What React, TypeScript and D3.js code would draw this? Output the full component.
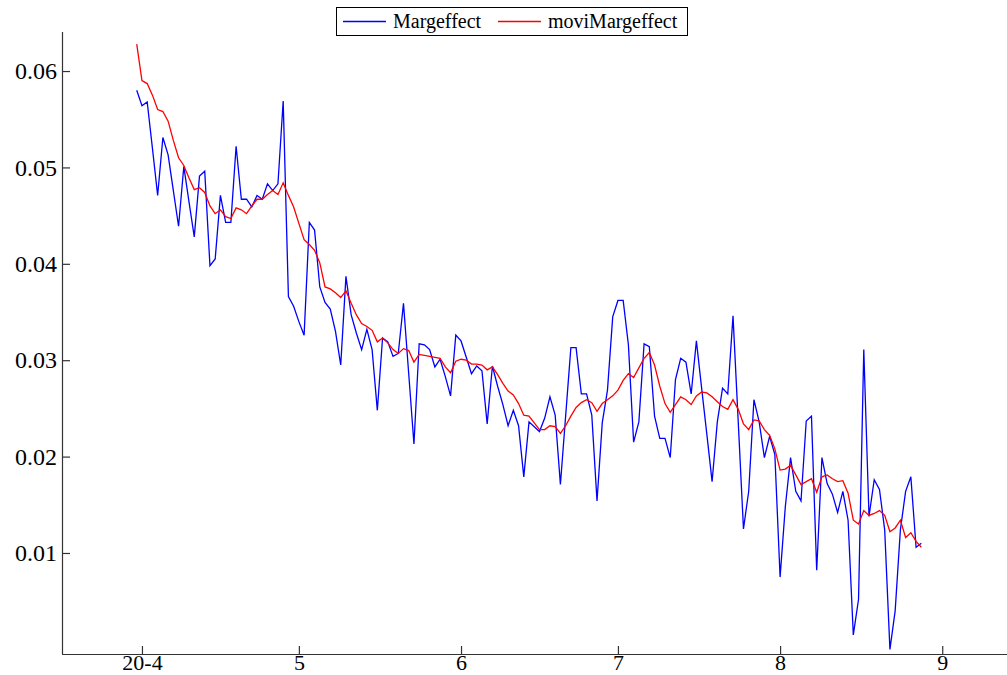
import React, { useEffect, useRef } from "react";
import * as d3 from "d3";

// daily series starting 2020-03-31
const startDate = new Date(Date.UTC(2020, 2, 31));

const margeffect = [
  0.058, 0.0564, 0.0568, 0.052, 0.0471, 0.0531, 0.0513, 0.0476, 0.0439, 0.0501,
  0.0464, 0.0428, 0.0491, 0.0496, 0.0398, 0.0405, 0.0471, 0.0443, 0.0443, 0.0522,
  0.0467, 0.0467, 0.0459, 0.0471, 0.0467, 0.0483, 0.0476, 0.0483, 0.0569, 0.0366,
  0.0356, 0.034, 0.0326, 0.0443, 0.0435, 0.0376, 0.036, 0.0353, 0.033, 0.0295,
  0.0387, 0.0347, 0.0328, 0.0311, 0.0332, 0.0311, 0.0248, 0.0323, 0.0319, 0.0304,
  0.0307, 0.0359, 0.0286, 0.0213, 0.0317, 0.0316, 0.0311, 0.0293, 0.0301, 0.0283,
  0.0263, 0.0326, 0.032, 0.0303, 0.0286, 0.0294, 0.0289, 0.0234, 0.0294, 0.0273,
  0.0254, 0.0232, 0.0248, 0.0232, 0.0179, 0.0236, 0.0231, 0.0226, 0.024, 0.0262,
  0.0243, 0.0171, 0.0242, 0.0313, 0.0313, 0.0265, 0.0265, 0.0243, 0.0154, 0.0235,
  0.0269, 0.0345, 0.0362, 0.0362, 0.0316, 0.0215, 0.0236, 0.0317, 0.0314, 0.0242,
  0.0219, 0.0219, 0.0199, 0.028, 0.0302, 0.0298, 0.0265, 0.032, 0.0271, 0.0223,
  0.0174, 0.0236, 0.0271, 0.0265, 0.0346, 0.0236, 0.0125, 0.0164, 0.0259, 0.0236,
  0.0199, 0.0221, 0.0202, 0.0075, 0.0148, 0.0199, 0.0164, 0.0154, 0.0237, 0.0242,
  0.0082, 0.0199, 0.0172, 0.0161, 0.0142, 0.0164, 0.0134, 0.0015, 0.0052, 0.0311,
  0.0138, 0.0176, 0.0166, 0.0124, 0.0, 0.004, 0.0124, 0.0164, 0.0179, 0.0106,
  0.011,
];

const moviMargeffect = [
  0.0628, 0.059, 0.0587, 0.0575, 0.056, 0.0558, 0.0548, 0.0528, 0.051, 0.0502,
  0.0489, 0.0477, 0.0479, 0.0474, 0.046, 0.0452, 0.0456, 0.0449, 0.0447, 0.0458,
  0.0456, 0.0452, 0.046, 0.0467, 0.0467, 0.0472, 0.0476, 0.0472, 0.0484, 0.0471,
  0.0459, 0.0442, 0.0425, 0.042, 0.0414, 0.0401, 0.0376, 0.0374, 0.037, 0.0365,
  0.0372, 0.0359, 0.0347, 0.0338, 0.0335, 0.0331, 0.0319, 0.0323, 0.0318, 0.0311,
  0.0307, 0.0312, 0.031, 0.0298, 0.0306, 0.0305, 0.0304, 0.0303, 0.0302, 0.0293,
  0.0287, 0.0299, 0.0301, 0.03, 0.0296, 0.0296, 0.0295, 0.029, 0.0293, 0.0285,
  0.0276, 0.0268, 0.0264, 0.0255, 0.0243, 0.0242, 0.0235, 0.0228, 0.0228, 0.0232,
  0.0231, 0.0224, 0.0232, 0.0242, 0.0251, 0.0256, 0.0259, 0.0256, 0.0247, 0.0255,
  0.0259, 0.0263, 0.0269, 0.0279, 0.0286, 0.0282, 0.0292, 0.0302, 0.0308, 0.0295,
  0.0273, 0.0255, 0.0246, 0.0254, 0.0262, 0.0259, 0.0254, 0.0263, 0.0267, 0.0266,
  0.0262, 0.0257, 0.0252, 0.0249, 0.0259, 0.0249, 0.0234, 0.0228, 0.0238, 0.0237,
  0.0228, 0.0222, 0.0208, 0.0186, 0.0187, 0.0191, 0.0181, 0.0171, 0.0174, 0.0177,
  0.0163, 0.0179, 0.0181, 0.0177, 0.0174, 0.0175, 0.0162, 0.0134, 0.013, 0.0144,
  0.0139, 0.0141, 0.0144, 0.0139, 0.0122, 0.0126, 0.0134, 0.0116, 0.0121, 0.0112,
  0.0106,
];

const seriesNames = ["Margeffect", "moviMargeffect"];
const seriesColors = ["#0000ff", "#ff0000"];
const yTicks = [0.01, 0.02, 0.03, 0.04, 0.05, 0.06];

const width = 1007;
const height = 675;
const fontFamily = "'Liberation Serif', 'Times New Roman', Times, serif";

const Chart = () => {
  const svgRef = useRef(null);

  useEffect(() => {
    const svg = d3.select(svgRef.current);
    svg.selectAll("*").remove();

    const left = 62;
    const bottom = 654;
    const top = 32;

    const x = d3
      .scaleUtc()
      .domain([new Date(Date.UTC(2020, 2, 17)), new Date(Date.UTC(2020, 8, 13))])
      .range([63.5, 1005]);

    const y = d3.scaleLinear().domain([-0.00048, 0.06405]).range([bottom, top]);

    const dates = margeffect.map((_, i) => d3.utcDay.offset(startDate, i));

    // x axis, ticks on month starts, pointing inward
    const xAxis = d3
      .axisBottom(x)
      .ticks(d3.utcMonth.every(1))
      .tickSizeInner(-8)
      .tickSizeOuter(0)
      .tickPadding(0)
      .tickFormat((d, i) => {
        const m = d.getUTCMonth() + 1;
        return i === 0 ? `${String(d.getUTCFullYear()).slice(2)}-${m}` : `${m}`;
      });

    const gx = svg.append("g").attr("transform", `translate(0,${bottom})`).call(xAxis);
    gx.select(".domain").attr("d", `M${left},0.5H${width}`);
    gx.selectAll(".tick text").style("font-size", "22px");

    const yAxis = d3
      .axisLeft(y)
      .tickValues(yTicks)
      .tickSizeInner(-8)
      .tickSizeOuter(0)
      .tickPadding(5)
      .tickFormat(d3.format(".2f"));

    const gy = svg.append("g").attr("transform", `translate(${left},0)`).call(yAxis);
    gy.select(".domain").attr("d", `M0.5,${top}V${bottom}`);
    gy.selectAll(".tick text").style("font-size", "24px");

    svg.selectAll("g").attr("font-family", fontFamily);
    svg.selectAll(".tick text").style("font-family", fontFamily).attr("fill", "#000");
    svg.selectAll(".domain, .tick line").attr("stroke", "#333").attr("stroke-width", 1.2);

    const line = d3
      .line()
      .x((d, i) => x(dates[i]))
      .y((d) => y(d));

    [margeffect, moviMargeffect].forEach((s, k) => {
      svg.append("path")
        .datum(s)
        .attr("fill", "none")
        .attr("stroke", seriesColors[k])
        .attr("stroke-width", 1.3)
        .attr("d", line);
    });

    // legend
    const lg = svg.append("g");
    lg.append("rect")
      .attr("x", 336.5)
      .attr("y", 7.5)
      .attr("width", 351)
      .attr("height", 28)
      .attr("fill", "#fff")
      .attr("stroke", "#000")
      .attr("stroke-width", 1);
    const items = [
      { x1: 343, x2: 386, tx: 393 },
      { x1: 498, x2: 541, tx: 548 },
    ];
    items.forEach((it, k) => {
      lg.append("line")
        .attr("x1", it.x1)
        .attr("x2", it.x2)
        .attr("y1", 21.5)
        .attr("y2", 21.5)
        .attr("stroke", seriesColors[k])
        .attr("stroke-width", 1.3);
      lg.append("text")
        .attr("x", it.tx)
        .attr("y", 28)
        .style("font-family", fontFamily)
        .style("font-size", "20px")
        .text(seriesNames[k]);
    });
  });

  return <svg ref={svgRef} width={width} height={height} style={{ display: "block", background: "#fff" }} />;
};

export default function App() {
  return (
    <div style={{ position: "absolute", left: 0, top: 0 }}>
      <Chart />
    </div>
  );
}
